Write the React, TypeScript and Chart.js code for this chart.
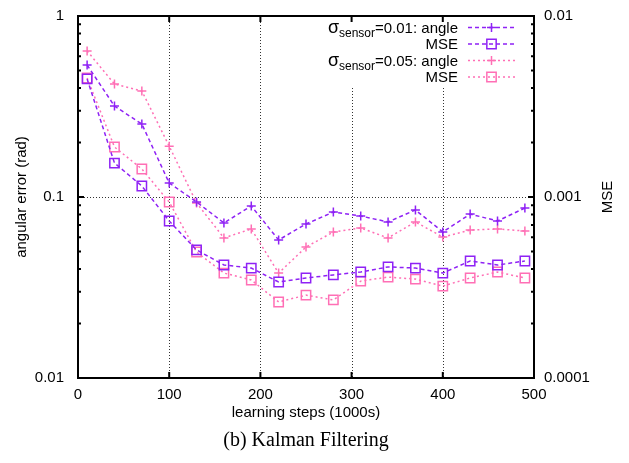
import React, { useEffect, useRef } from 'react';
import { Chart, registerables } from 'chart.js';

Chart.register(...registerables);

// ---- data ----
const steps = [10, 40, 70, 100, 130, 160, 190, 220, 250, 280, 310, 340, 370, 400, 430, 460, 490];
const angleSensor001 = [0.536, 0.318, 0.253, 0.1195, 0.0938, 0.0719, 0.0892, 0.0579, 0.0709, 0.0826, 0.0785, 0.0728, 0.0848, 0.0641, 0.0805, 0.0737, 0.0869];
const mseSensor001 = [4.49e-3, 1.54e-3, 1.15e-3, 7.37e-4, 5.1e-4, 4.21e-4, 4.05e-4, 3.39e-4, 3.57e-4, 3.71e-4, 3.85e-4, 4.11e-4, 4.05e-4, 3.8e-4, 4.43e-4, 4.21e-4, 4.43e-4];
const angleSensor005 = [0.641, 0.421, 0.385, 0.191, 0.0927, 0.0594, 0.0666, 0.038, 0.0529, 0.0641, 0.0674, 0.0594, 0.0728, 0.0601, 0.0657, 0.0666, 0.0649];
const mseSensor005 = [4.545e-3, 1.89e-3, 1.428e-3, 9.38e-4, 4.97e-4, 3.8e-4, 3.48e-4, 2.63e-4, 2.87e-4, 2.7e-4, 3.43e-4, 3.61e-4, 3.52e-4, 3.22e-4, 3.57e-4, 3.85e-4, 3.57e-4];

const xTickValues = [0, 100, 200, 300, 400, 500];
const leftTickValues = [0.01, 0.1, 1];
const rightTickValues = [0.0001, 0.001, 0.01];
const xGridValues = [100, 200, 300, 400];
const yGridValues = [0.1];

const xTitle = 'learning steps (1000s)';
const yTitle = 'angular error (rad)';
const y2Title = 'MSE';
const caption = '(b) Kalman Filtering';

const legendRows = [
  { sigma: true, sub: 'sensor', text: '=0.01: angle', series: 0 },
  { sigma: false, sub: '', text: 'MSE', series: 1 },
  { sigma: true, sub: 'sensor', text: '=0.05: angle', series: 2 },
  { sigma: false, sub: '', text: 'MSE', series: 3 },
];

// ---- styles ----
const PURPLE = '#8f22f5';
const PINK = '#ff6fb5';
const FONT = '"Liberation Sans", Arial, sans-serif';
const SERIF = '"Liberation Serif", "Times New Roman", serif';
const DASHED = [4, 3];
const DOTTED = [2, 3];
const CROSS_R = 4.5;
const RECT_R = 6.6;

const seriesStyles = [
  { color: PURPLE, dash: DASHED, point: 'cross' },
  { color: PURPLE, dash: DASHED, point: 'rect' },
  { color: PINK, dash: DOTTED, point: 'cross' },
  { color: PINK, dash: DOTTED, point: 'rect' },
];

function drawMarker(ctx: CanvasRenderingContext2D, kind: string, x: number, y: number, color: string) {
  ctx.save();
  ctx.setLineDash([]);
  ctx.strokeStyle = color;
  ctx.lineWidth = 1.5;
  ctx.beginPath();
  if (kind === 'cross') {
    ctx.moveTo(x - CROSS_R, y);
    ctx.lineTo(x + CROSS_R, y);
    ctx.moveTo(x, y - CROSS_R);
    ctx.lineTo(x, y + CROSS_R);
  } else {
    const s = RECT_R * Math.SQRT1_2;
    ctx.rect(x - s, y - s, 2 * s, 2 * s);
  }
  ctx.stroke();
  ctx.restore();
}

const framePlugin = {
  id: 'gnuplotFrame',
  beforeDatasetsDraw(chart: any) {
    const { ctx, chartArea: a, scales } = chart;
    ctx.save();
    ctx.strokeStyle = '#333';
    ctx.lineWidth = 1;
    ctx.setLineDash([1, 2]);
    for (const v of xGridValues) {
      const x = Math.round(scales.x.getPixelForValue(v)) + 0.5;
      ctx.beginPath();
      ctx.moveTo(x, a.top);
      ctx.lineTo(x, a.bottom);
      ctx.stroke();
    }
    for (const v of yGridValues) {
      const y = Math.round(scales.y.getPixelForValue(v)) + 0.5;
      ctx.beginPath();
      ctx.moveTo(a.left, y);
      ctx.lineTo(a.right, y);
      ctx.stroke();
    }
    ctx.restore();
    // legend background
    ctx.save();
    ctx.fillStyle = '#fff';
    ctx.fillRect(318, a.top + 1, a.right - 318 - 1, 86 - a.top);
    ctx.restore();
  },
  afterDraw(chart: any) {
    const { ctx, chartArea: a, scales } = chart;
    ctx.save();
    // border
    ctx.strokeStyle = '#000';
    ctx.lineWidth = 2;
    ctx.setLineDash([]);
    ctx.strokeRect(a.left, a.top, a.right - a.left, a.bottom - a.top);
    // ticks
    ctx.lineWidth = 2;
    ctx.beginPath();
    for (const v of xTickValues) {
      const x = scales.x.getPixelForValue(v);
      ctx.moveTo(x, a.bottom);
      ctx.lineTo(x, a.bottom - 6);
      ctx.moveTo(x, a.top);
      ctx.lineTo(x, a.top + 6);
    }
    const tickSide = (scale: any, vals: number[]) => {
      for (let i = 0; i < vals.length; i++) {
        const d = vals[i];
        const yM = scale.getPixelForValue(d);
        ctx.moveTo(a.left, yM);
        ctx.lineTo(a.left + 6, yM);
        ctx.moveTo(a.right, yM);
        ctx.lineTo(a.right - 6, yM);
        if (i < vals.length - 1) {
          for (let k = 2; k <= 9; k++) {
            const y = scale.getPixelForValue(d * k);
            ctx.moveTo(a.left, y);
            ctx.lineTo(a.left + 3, y);
            ctx.moveTo(a.right, y);
            ctx.lineTo(a.right - 3, y);
          }
        }
      }
    };
    tickSide(scales.y, leftTickValues);
    ctx.stroke();

    // titles
    ctx.fillStyle = '#000';
    ctx.font = `15px ${FONT}`;
    ctx.textAlign = 'center';
    ctx.textBaseline = 'middle';
    const cx = (a.left + a.right) / 2;
    const cy = (a.top + a.bottom) / 2;
    ctx.fillText(xTitle, cx, 413);
    ctx.save();
    ctx.translate(22, cy);
    ctx.rotate(-Math.PI / 2);
    ctx.fillText(yTitle, 0, 0);
    ctx.restore();
    ctx.save();
    ctx.translate(608, cy);
    ctx.rotate(-Math.PI / 2);
    ctx.fillText(y2Title, 0, 0);
    ctx.restore();
    ctx.font = `20px ${SERIF}`;
    ctx.fillText(caption, cx, 441);

    // legend
    const rowY = [27.5, 44, 60.5, 77];
    const textRight = 458;
    ctx.textAlign = 'left';
    ctx.textBaseline = 'alphabetic';
    legendRows.forEach((row, i) => {
      const y = rowY[i];
      const base = y + 5;
      ctx.font = `18px ${FONT}`;
      const wSig = row.sigma ? ctx.measureText('σ').width : 0;
      ctx.font = `15px ${FONT}`;
      const wText = ctx.measureText(row.text).width;
      ctx.font = `12px ${FONT}`;
      const wSub = row.sub ? ctx.measureText(row.sub).width : 0;
      let x = textRight - wSig - wSub - wText;
      if (row.sigma) {
        ctx.font = `18px ${FONT}`;
        ctx.fillText('σ', x, base);
        x += wSig;
        ctx.font = `12px ${FONT}`;
        ctx.fillText(row.sub, x, base + 4);
        x += wSub;
      }
      ctx.font = `15px ${FONT}`;
      ctx.fillText(row.text, x, base);
      const st = seriesStyles[row.series];
      ctx.save();
      ctx.strokeStyle = st.color;
      ctx.lineWidth = 1.5;
      ctx.setLineDash(st.dash);
      ctx.beginPath();
      ctx.moveTo(468, y);
      ctx.lineTo(515, y);
      ctx.stroke();
      ctx.restore();
      drawMarker(ctx, st.point, 491.5, y, st.color);
    });
    ctx.restore();
  },
};

function makeDataset(label: string, values: number[], axis: string, idx: number) {
  const st = seriesStyles[idx];
  return {
    label,
    data: steps.map((x, i) => ({ x, y: values[i] })),
    yAxisID: axis,
    borderColor: st.color,
    borderWidth: 1.5,
    borderDash: st.dash,
    backgroundColor: 'rgba(0,0,0,0)',
    pointStyle: st.point,
    pointRadius: st.point === 'cross' ? CROSS_R : RECT_R,
    pointBorderWidth: 1.5,
    pointBorderColor: st.color,
    pointBackgroundColor: 'rgba(0,0,0,0)',
    fill: false,
    tension: 0,
  };
}

export default function App() {
  const ref = useRef<HTMLCanvasElement>(null);
  useEffect(() => {
    document.body.style.margin = '0';
    const chart = new Chart(ref.current as HTMLCanvasElement, {
      type: 'line',
      data: {
        datasets: [
          makeDataset('σsensor=0.01: angle', angleSensor001, 'y', 0),
          makeDataset('MSE (σsensor=0.01)', mseSensor001, 'y2', 1),
          makeDataset('σsensor=0.05: angle', angleSensor005, 'y', 2),
          makeDataset('MSE (σsensor=0.05)', mseSensor005, 'y2', 3),
        ] as any,
      },
      options: {
        responsive: false,
        animation: false,
        devicePixelRatio: 1,
        layout: { padding: { top: 16, left: 0, right: 0, bottom: 0 } },
        plugins: { legend: { display: false }, tooltip: { enabled: false } },
        scales: {
          x: {
            type: 'linear',
            min: 0,
            max: 500,
            grid: { display: false, drawTicks: false },
            border: { display: false },
            afterBuildTicks: (s: any) => { s.ticks = xTickValues.map((v) => ({ value: v })); },
            afterFit: (s: any) => { s.height = 85; s.paddingLeft = 0; s.paddingRight = 0; },
            ticks: { color: '#000', font: { family: FONT, size: 15 }, padding: 8, autoSkip: false, maxRotation: 0, callback: (v: any) => String(v) },
          },
          y: {
            type: 'logarithmic',
            position: 'left',
            min: 0.01,
            max: 1,
            grid: { display: false, drawTicks: false },
            border: { display: false },
            afterBuildTicks: (s: any) => { s.ticks = leftTickValues.map((v) => ({ value: v })); },
            afterFit: (s: any) => { s.width = 78; s.paddingTop = 0; s.paddingBottom = 0; },
            ticks: { color: '#000', font: { family: FONT, size: 15 }, padding: 14, autoSkip: false, callback: (v: any) => String(v) },
          },
          y2: {
            type: 'logarithmic',
            position: 'right',
            min: 0.0001,
            max: 0.01,
            grid: { display: false, drawTicks: false },
            border: { display: false },
            afterBuildTicks: (s: any) => { s.ticks = rightTickValues.map((v) => ({ value: v })); },
            afterFit: (s: any) => { s.width = 95; s.paddingTop = 0; s.paddingBottom = 0; },
            ticks: { color: '#000', font: { family: FONT, size: 15 }, padding: 10, autoSkip: false, callback: (v: any) => String(v) },
          },
        },
      } as any,
      plugins: [framePlugin],
    });
    return () => chart.destroy();
  }, []);
  return (
    <div style={{ width: 629, height: 463 }}>
      <canvas ref={ref} width={629} height={463} style={{ display: 'block', width: 629, height: 463 }} />
    </div>
  );
}
